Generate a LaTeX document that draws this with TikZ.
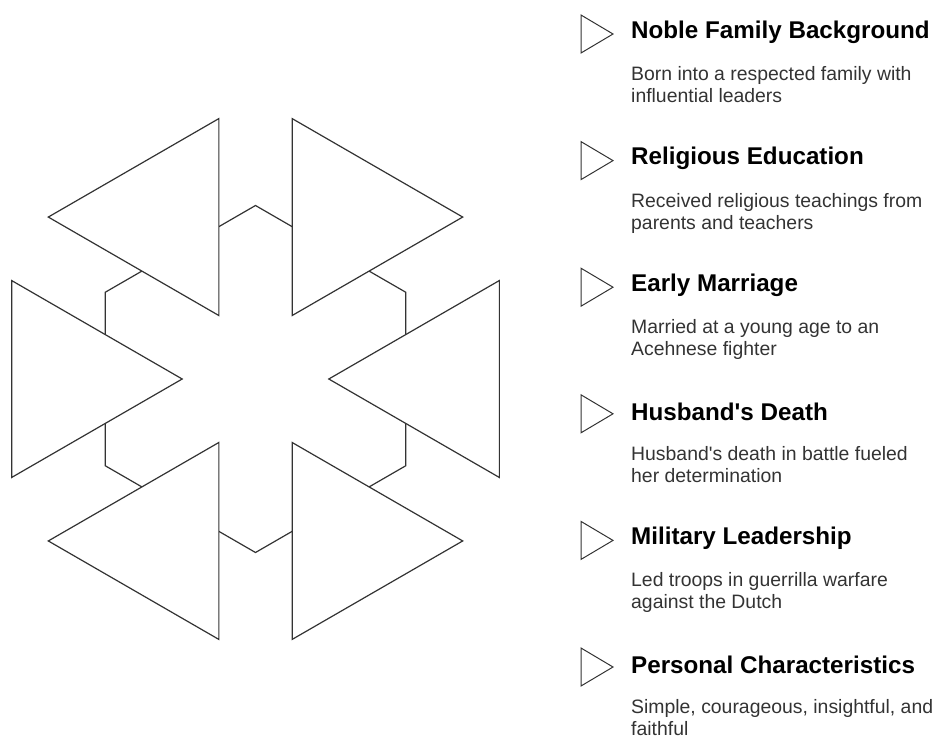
\documentclass[tikz,border=0pt]{standalone}
\usepackage{fontspec}
\setmainfont{Liberation Sans}
\usetikzlibrary{calc}

\tikzset{
  outline/.style={draw=black!80, line width=1.2pt, line join=miter},
  heading/.style={anchor=west, inner sep=0pt, text=black,
    font=\fontsize{24.2}{29}\selectfont\bfseries},
  blurb/.style={anchor=base west, inner sep=0pt, align=left, text=black!80,
    font=\fontsize{19.4}{22}\selectfont}
}

\begin{document}
\begin{tikzpicture}[x=1pt,y=-1pt]
\useasboundingbox (0,0) rectangle (938,737);
\clip (0,0) rectangle (938,737);
\coordinate (c) at (255.5,379);
\draw[outline, shift={(c)}] (90:173.5) -- (150:173.5) -- (210:173.5) -- (270:173.5) -- (330:173.5) -- (30:173.5) -- cycle;
\foreach \a in {0,60,...,300}
  \draw[outline, fill=white, shift={(c)}, shift={(\a:187)}] (\a+180:113.7) -- (\a+60:113.7) -- (\a-60:113.7) -- cycle;
\foreach \t/\d [count=\i from 0] in {
  Noble Family Background/{Born into a respected family with\\influential leaders},
  Religious Education/{Received religious teachings from\\parents and teachers},
  Early Marriage/{Married at a young age to an\\Acehnese fighter},
  Husband\textquotesingle s Death/{Husband\textquotesingle s death in battle fueled\\her determination},
  Military Leadership/{Led troops in guerrilla warfare\\against the Dutch},
  Personal Characteristics/{Simple, courageous, insightful, and\\faithful}} {
  \pgfmathsetmacro\y{32+126.6*\i}
  \draw[outline, line width=1pt] (581,\y-17) -- (613,\y+2) -- (581,\y+21) -- cycle;
  \node[heading] (head\i) at (631,\y) {\t};
  \node[blurb] (blurb\i) at (631,\y+70.5) {\d};
}
\end{tikzpicture}
\end{document}
